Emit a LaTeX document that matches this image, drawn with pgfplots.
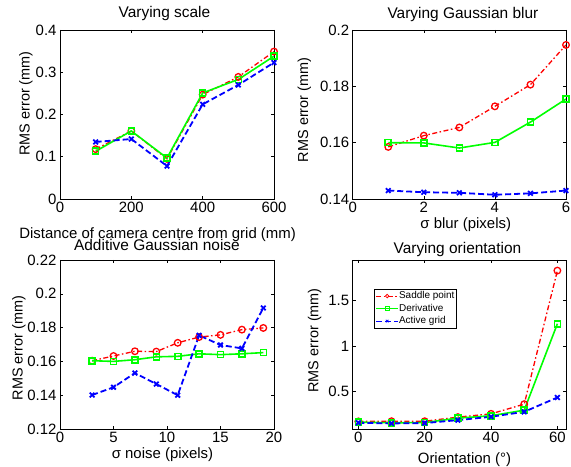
\documentclass[border=0pt]{standalone}
\usepackage{fontspec}
\setmainfont{Liberation Sans}
\usepackage{pgfplots}
\pgfplotsset{compat=1.18}
\definecolor{mred}{RGB}{255,0,0}
\definecolor{mgreen}{RGB}{0,255,0}
\definecolor{mblue}{RGB}{0,0,255}

\pgfplotsset{
  every axis title/.style={anchor=center},
  panel/.style={
    scale only axis, width=214bp, height=169bp, anchor=south west,
    axis line style={line width=0.5bp}, tick style={black, line width=0.5bp},
    major tick length=3bp,
    tick label style={font=\fontsize{15}{17}\selectfont},
    xlabel style={font=\fontsize{15}{17}\selectfont, anchor=center},
    ylabel style={font=\fontsize{14.5}{16}\selectfont, anchor=center},
    title style={font=\fontsize{15.5}{17}\selectfont},
    /pgf/number format/assume math mode=true,
    /pgf/number format/fixed,
    scaled ticks=false,
  },
  saddle/.style={color=mred, line width=1.3bp,
    dash pattern=on 5bp off 2.5bp on 1.5bp off 2.5bp,
    mark=o, mark size=3.3bp, mark options={solid}},
  deriv/.style={color=mgreen, line width=1.6bp,
    mark=square, mark size=3bp, mark options={solid}},
  active/.style={color=mblue, line width=1.8bp,
    dash pattern=on 6bp off 3bp,
    mark=x, mark size=3.3bp, mark options={solid}},
}

\begin{document}
\begin{tikzpicture}
\useasboundingbox (0,0) rectangle (571bp,467bp);

% top left
\begin{axis}[panel, at={(60bp,268bp)},
    xmin=0, xmax=600, ymin=0, ymax=0.4,
    xtick={0,200,400,600}, ytick={0,0.1,0.2,0.3,0.4},
    title={Varying scale},
    title style={at={(axis description cs:0.488,1.095)}},
    xlabel={Distance of camera centre from grid (mm)},
    xlabel style={at={(axis description cs:0.456,-0.213)}},
    ylabel={RMS error (mm)},
    ylabel style={at={(axis description cs:-0.159,0.565)}},
]
\addplot[saddle] coordinates {(100,0.118) (200,0.161) (300,0.095) (400,0.247) (500,0.289) (600,0.349)};
\addplot[deriv] coordinates {(100,0.113) (200,0.161) (300,0.097) (400,0.251) (500,0.283) (600,0.338)};
\addplot[active] coordinates {(100,0.135) (200,0.142) (300,0.078) (400,0.224) (500,0.270) (600,0.323)};
\end{axis}

% top right
\begin{axis}[panel, at={(352.7bp,268bp)}, width=213.3bp,
    xmin=0, xmax=6, ymin=0.14, ymax=0.2,
    xtick={0,2,4,6}, ytick={0.14,0.16,0.18,0.2},
    title={Varying Gaussian blur},
    title style={at={(axis description cs:0.517,1.092)}},
    xlabel={σ blur (pixels)},
    xlabel style={at={(axis description cs:0.53,-0.154)}},
    ylabel={RMS error (mm)},
    ylabel style={at={(axis description cs:-0.226,0.527)}},
]
\addplot[saddle] coordinates {(1,0.1585) (2,0.1625) (3,0.1654) (4,0.1729) (5,0.1806) (6,0.1947)};
\addplot[deriv] coordinates {(1,0.1600) (2,0.1599) (3,0.1581) (4,0.1601) (5,0.1673) (6,0.1755)};
\addplot[active] coordinates {(1,0.1430) (2,0.1424) (3,0.1422) (4,0.1415) (5,0.1420) (6,0.1430)};
\end{axis}

% bottom left
\begin{axis}[panel, at={(60bp,38bp)},
    xmin=0, xmax=20, ymin=0.12, ymax=0.22,
    xtick={0,5,10,15,20}, ytick={0.12,0.14,0.16,0.18,0.2,0.22},
    title={Additive Gaussian noise},
    title style={at={(axis description cs:0.453,1.091)}},
    xlabel={σ noise (pixels)},
    xlabel style={at={(axis description cs:0.479,-0.154)}},
    ylabel={RMS error (mm)},
    ylabel style={at={(axis description cs:-0.192,0.479)}},
]
\addplot[saddle] coordinates {(3,0.1604) (5,0.1632) (7,0.1660) (9,0.1658) (11,0.1710) (13,0.1744) (15,0.1757) (17,0.1788) (19,0.1798)};
\addplot[deriv] coordinates {(3,0.1604) (5,0.1600) (7,0.1610) (9,0.1627) (11,0.1630) (13,0.1645) (15,0.1640) (17,0.1645) (19,0.1652)};
\addplot[active] coordinates {(3,0.1401) (5,0.1447) (7,0.1531) (9,0.1466) (11,0.1400) (13,0.1754) (15,0.1697) (17,0.1677) (19,0.1916)};
\end{axis}

% bottom right
\begin{axis}[panel, at={(352.7bp,38bp)}, width=213.3bp,
    xmin=-1.7, xmax=62.6, ymin=0.09, ymax=1.94,
    xtick={0,20,40,60}, ytick={0.5,1,1.5},
    title={Varying orientation},
    title style={at={(axis description cs:0.491,1.062)}},
    xlabel={Orientation (°)},
    xlabel style={at={(axis description cs:0.524,-0.183)}},
    ylabel={RMS error (mm)},
    ylabel style={at={(axis description cs:-0.179,0.524)}},
    legend style={at={(axis description cs:0.1,0.828)}, anchor=north west,
      font=\fontsize{10}{11}\selectfont, draw=black, line width=0.5bp,
      inner sep=1.5bp, row sep=2bp,
      nodes={inner sep=0.5bp, text height=7.5bp, text depth=2bp}},
    legend cell align=left,
    /tikz/every even column/.append style={column sep=5bp},
    legend image post style={mark size=1.8bp, line width=0.8bp},
    legend image code/.code={\draw[#1] (0bp,0bp) -- (11bp,0bp) -- (22bp,0bp);
      \draw[#1, only marks] plot coordinates {(11bp,0bp)};},
]
\addplot[saddle] coordinates {(0,0.173) (10,0.175) (20,0.175) (30,0.220) (40,0.256) (50,0.362) (60,1.824)};
\addplot[deriv] coordinates {(0,0.165) (10,0.158) (20,0.160) (30,0.209) (40,0.235) (50,0.296) (60,1.242)};
\addplot[active] coordinates {(0,0.158) (10,0.151) (20,0.155) (30,0.187) (40,0.224) (50,0.278) (60,0.435)};
\legend{Saddle point, Derivative, Active grid}
\end{axis}
\end{tikzpicture}
\end{document}
